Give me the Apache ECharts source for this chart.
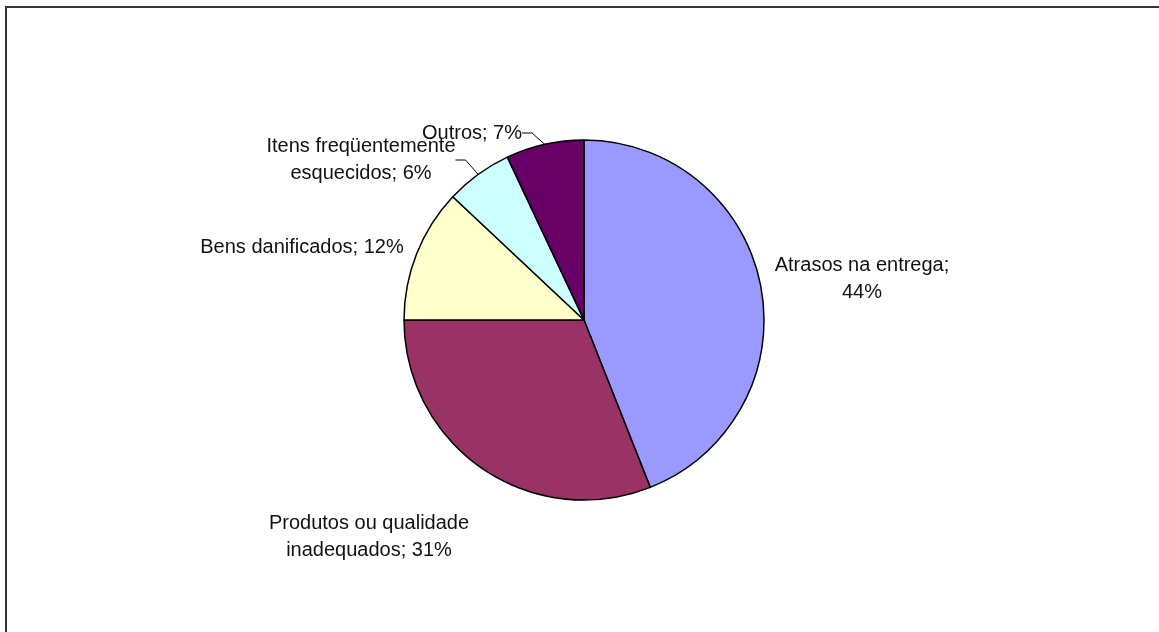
<!DOCTYPE html>
<html>
<head>
<meta charset="utf-8">
<script src="https://cdn.jsdelivr.net/npm/echarts@6/dist/echarts.min.js"></script>
<style>
  html, body { margin: 0; padding: 0; background: #fff; }
  #main { width: 1159px; height: 632px; }
</style>
</head>
<body>
<div id="main"></div>
<script>
// dados do gráfico
var categorias = ['Atrasos na entrega', 'Produtos ou qualidade\ninadequados', 'Bens danificados', 'Itens freqüentemente\nesquecidos', 'Outros']
var valores = [44, 31, 12, 6, 7]
var separadores = [';\n', '; ', '; ', '; ', '; ']
var cores = ['#9999ff', '#993366', '#ffffcc', '#ccffff', '#660066']
var comLinha = [false, false, false, true, true]

// posição dos rótulos (como no original)
var posRotulos = [[862, 279], [369, 537], [302, 247], [361, 160], [472, 133]]

var dados = []
for (var i = 0; i < categorias.length; i++) {
  dados.push({
    name: categorias[i],
    value: valores[i],
    itemStyle: { color: cores[i] },
    labelLine: { show: comLinha[i] }
  })
}

var option = {
  backgroundColor: '#fff',
  animation: false,
  graphic: [{
    type: 'rect',
    shape: { x: 6, y: 7, width: 1170, height: 640 },
    style: { fill: 'none', stroke: '#333', lineWidth: 2 }
  }],
  series: [{
    type: 'pie',
    center: [584, 320],
    radius: 180,
    startAngle: 90,
    clockwise: true,
    itemStyle: { borderColor: '#000', borderWidth: 1.5 },
    label: {
      show: true,
      position: 'outside',
      fontFamily: 'Liberation Sans, Arial, sans-serif',
      fontSize: 20,
      lineHeight: 27,
      color: '#111',
      align: 'center',
      formatter: function (p) {
        return p.name + separadores[p.dataIndex] + p.value + '%'
      }
    },
    labelLine: {
      length: 10,
      length2: 10,
      lineStyle: { color: '#000', width: 1 }
    },
    labelLayout: function (p) {
      var pos = posRotulos[p.dataIndex]
      return { x: pos[0], y: pos[1], align: 'center', verticalAlign: 'middle' }
    },
    emphasis: { disabled: true },
    data: dados
  }]
}

var grafico = echarts.init(document.getElementById('main'))
grafico.setOption(option, true)
</script>
</body>
</html>
